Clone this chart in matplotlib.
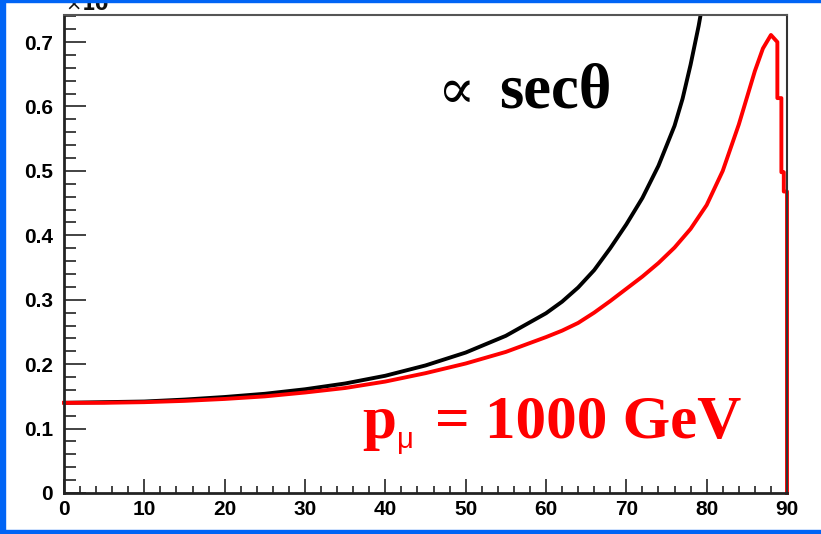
import matplotlib.pyplot as plt
from matplotlib.patches import Rectangle
from matplotlib.ticker import MultipleLocator

# angle (deg) and rate
theta_sec = [0, 5, 10, 15, 20, 25, 30, 35, 40, 45, 50, 55, 60, 62, 64, 66,
             68, 70, 72, 74, 76, 77, 78, 79, 80]
rate_sec = [0.140, 0.141, 0.142, 0.145, 0.149, 0.154, 0.161, 0.170, 0.182,
            0.198, 0.218, 0.244, 0.279, 0.297, 0.319, 0.346, 0.380, 0.417,
            0.458, 0.508, 0.570, 0.612, 0.665, 0.725, 0.795]

theta_1000 = [0, 5, 10, 15, 20, 25, 30, 35, 40, 45, 50, 55, 60, 62, 64, 66,
              68, 70, 72, 74, 76, 78, 80, 82, 84, 86, 87, 88, 88.8, 88.8,
              89.3, 89.3, 89.6, 89.6, 90, 90]
rate_1000 = [0.140, 0.140, 0.141, 0.143, 0.146, 0.150, 0.156, 0.163, 0.173,
             0.186, 0.201, 0.219, 0.242, 0.252, 0.264, 0.280, 0.298, 0.317,
             0.336, 0.357, 0.381, 0.410, 0.447, 0.500, 0.572, 0.655, 0.690,
             0.711, 0.700, 0.613, 0.613, 0.498, 0.498, 0.468, 0.468, 0.0]

xticks = [0, 10, 20, 30, 40, 50, 60, 70, 80, 90]
yticks = [0, 0.1, 0.2, 0.3, 0.4, 0.5, 0.6, 0.7]
ytick_labels = ['0', '0.1', '0.2', '0.3', '0.4', '0.5', '0.6', '0.7']

W, H = 821, 534
fig = plt.figure(figsize=(W / 100, H / 100), dpi=100)
ax = fig.add_axes([64 / W, 41 / H, 723 / W, 478 / H])

ax.plot(theta_sec, rate_sec, color='black', lw=2.8)
ax.plot(theta_1000, rate_1000, color='#ff0000', lw=2.8, clip_on=False)

ax.set_xlim(0, 90)
ax.set_ylim(0, 0.742)
ax.set_xticks(xticks)
ax.set_yticks(yticks)
ax.set_yticklabels(ytick_labels)
ax.xaxis.set_minor_locator(MultipleLocator(2))
ax.yaxis.set_minor_locator(MultipleLocator(0.02))

ax.tick_params(axis='x', which='major', direction='in', length=10, width=1.2,
               pad=5, color='#222222')
ax.tick_params(axis='x', which='minor', direction='in', length=5, width=1.2,
               color='#222222')
ax.tick_params(axis='y', which='major', direction='in', length=16, width=1.2,
               pad=8, color='#222222')
ax.tick_params(axis='y', which='minor', direction='in', length=8.5, width=1.2,
               color='#222222')
for lab in ax.get_xticklabels() + ax.get_yticklabels():
    lab.set_fontfamily('Liberation Sans')
    lab.set_fontweight('bold')
    lab.set_fontsize(15)
    lab.set_color('black')

for side in ['left', 'bottom']:
    ax.spines[side].set_linewidth(2)
    ax.spines[side].set_color('#222222')
ax.spines['top'].set_linewidth(1.5)
ax.spines['top'].set_color('#555555')
ax.spines['right'].set_linewidth(1.5)
ax.spines['right'].set_color('#333333')


def px(x, y):
    return x / W, 1 - y / H


# exponent label, top cut by the frame
fig.text(*px(65, 10), r'$\times$$\mathbf{10}$', fontsize=14,
         color='#111111', va='baseline')

fig.text(*px(437, 108), '∝', family=['DejaVu Serif'],
         fontsize=40, va='baseline', color='black')
fig.text(*px(499, 108), 'secθ', family='Liberation Serif', fontweight='bold',
         fontsize=45, va='baseline', color='black')

fig.text(*px(362, 438), 'p', family='Liberation Serif', fontweight='bold',
         fontsize=44, va='baseline', color='#ff0000')
fig.text(*px(397, 448), 'μ', family='Liberation Sans', fontsize=21,
         va='baseline', color='#ff0000')
fig.text(*px(435, 438), '= 1000 GeV', family='Liberation Serif',
         fontweight='bold', fontsize=44, va='baseline', color='#ff0000')

# blue slide frame
blue = '#0064f5'
fig.patches.append(Rectangle((0, 0), 5 / W, 1, transform=fig.transFigure,
                             color=blue, zorder=10))
fig.patches.append(Rectangle((0, 1 - 2 / H), 1, 2 / H,
                             transform=fig.transFigure, color=blue, zorder=10))
fig.patches.append(Rectangle((0, 0), 1, 4 / H, transform=fig.transFigure,
                             color=blue, zorder=10))

fig.savefig('out.png', dpi=100)
